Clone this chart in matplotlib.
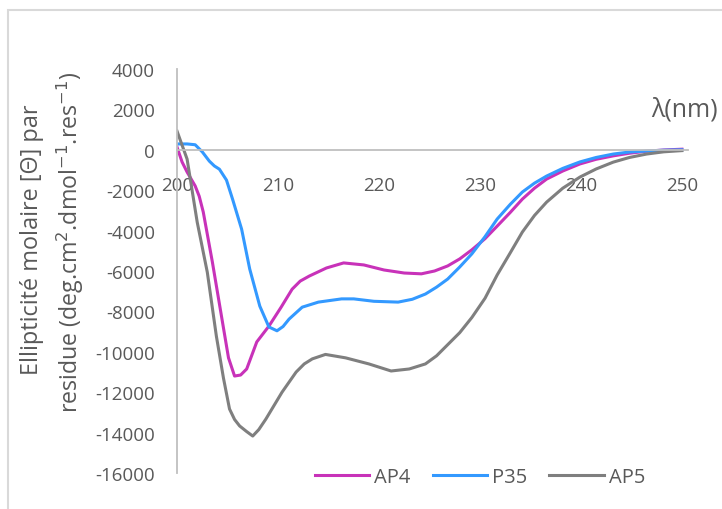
import numpy as np
import matplotlib.pyplot as plt
from matplotlib.patches import Rectangle

# CD spectra
wl_ap4 = [200, 200.5, 201, 201.8, 202.2, 202.6, 203.5, 204.5, 205.1, 205.7, 206.3, 206.9,
          207.9, 209.1, 210.3, 211.4, 212.2, 213.1, 214.8, 216.5, 218.5, 220.5, 222.5,
          224.2, 225.5, 226.8, 228, 229.2, 230.5, 231.7, 233, 234.2, 235.4, 236.6, 238.2,
          239.9, 241.5, 243.2, 244.8, 246.5, 248.2, 250]
ap4 = [140, -600, -1100, -1790, -2300, -3080, -5550, -8520, -10300, -11200, -11150, -10850,
       -9510, -8730, -7800, -6900, -6500, -6250, -5850, -5600, -5700, -5950, -6100,
       -6140, -6000, -5750, -5400, -4950, -4400, -3780, -3100, -2440, -1900, -1450, -1050,
       -700, -470, -300, -170, -70, -10, 30]

wl_p35 = [200, 201, 201.8, 202.5, 203.2, 203.7, 204.2, 204.9, 205.5, 206.4, 207.2, 208.2,
          209.1, 209.9, 210.5, 211.1, 212.4, 214.0, 216.3, 217.5, 219.5, 221.9, 223.3,
          224.6, 225.7, 226.8, 228, 229.2, 230.5, 231.7, 233, 234.2, 235.4, 236.6, 238.2,
          239.9, 241.5, 243.2, 244.8, 246.5, 248.2, 250]
p35 = [290, 290, 250, -100, -560, -800, -960, -1500, -2440, -3930, -5900, -7740,
       -8770, -8960, -8750, -8380, -7790, -7540, -7380, -7380, -7500, -7540, -7400,
       -7140, -6800, -6400, -5800, -5150, -4300, -3430, -2700, -2090, -1650, -1300, -920,
       -600, -380, -210, -110, -60, -20, 0]

wl_ap5 = [200, 201, 202, 203, 203.9, 204.6, 205.2, 205.7, 206.2, 206.9, 207.5, 208.1,
          208.8, 210.4, 211.8, 212.6, 213.4, 214.7, 216.7, 219, 221.2, 223, 224.6, 225.7,
          226.8, 228, 229.2, 230.5, 231.7, 233, 234.2, 235.4, 236.6, 238.2, 239.9, 241.5,
          243.2, 244.8, 246.5, 248.2, 250]
ap5 = [930, -460, -3580, -6060, -9230, -11300, -12830, -13350, -13670, -13950, -14170, -13850,
       -13330, -12000, -11000, -10600, -10350, -10130, -10300, -10600, -10950, -10850, -10600, -10200,
       -9650, -9050, -8300, -7350, -6200, -5100, -4070, -3250, -2590, -1900, -1350, -950,
       -610, -380, -210, -100, -40]

series = [("AP4", wl_ap4, ap4, "#C832B9"),
          ("P35", wl_p35, p35, "#3399FF"),
          ("AP5", wl_ap5, ap5, "#7F7F7F")]

plt.rcParams['axes.unicode_minus'] = False
font = ['Open Sans', 'DejaVu Sans']
txt = "#595959"
axc = "#BFBFBF"

fig = plt.figure(figsize=(7.22, 5.1), dpi=100)
fig.patches.append(Rectangle((8 / 722, -0.1), 1.2, 1.1 - 11 / 510, transform=fig.transFigure,
                             fill=False, edgecolor="#D9D9D9", linewidth=1.5))
ax = fig.add_axes([177 / 722, 1 - 474 / 510, (688 - 177) / 722, (474 - 70) / 510])

for name, x, y, c in series:
    ax.plot(x, y, color=c, lw=2.2, label=name, solid_joinstyle='round')

ax.set_xlim(200, 250.6)
ax.set_ylim(-16000, 4000)
ax.set_yticks(np.arange(-16000, 4001, 2000))
ax.set_xticks(np.arange(200, 251, 10))

for s in ['top', 'right']:
    ax.spines[s].set_visible(False)
ax.spines['bottom'].set_position(('data', 0))
for s in ['bottom', 'left']:
    ax.spines[s].set_color(axc)
    ax.spines[s].set_linewidth(1.3)
ax.tick_params(length=0, labelcolor=txt, labelsize=13.5)
ax.tick_params(axis='x', pad=19)
ax.tick_params(axis='y', pad=16)
for lab in ax.get_xticklabels() + ax.get_yticklabels():
    lab.set_family(font)

fig.text(32 / 722, 1 - 240 / 510, "Ellipticité molaire [Θ] par", rotation=90,
         ha='center', va='center', fontsize=16.9, color=txt, family=font)
fig.text(70 / 722, 1 - 242 / 510, "residue (deg.cm$^{2}$.dmol$^{-1}$.res$^{-1}$)", rotation=90,
         ha='center', va='center', fontsize=16.7, color=txt, family=font)
fig.text(718 / 722, 1 - 110 / 510, "λ(nm)", ha='right', va='center', fontsize=18,
         color=txt, family=font)

leg = ax.legend(loc='center', bbox_to_anchor=(480 / 722, 1 - 478 / 510),
                bbox_transform=fig.transFigure, ncol=3, frameon=False,
                handlelength=2.7, columnspacing=1.1, handletextpad=0.25,
                prop={'family': font, 'size': 14.5})
for t in leg.get_texts():
    t.set_color(txt)

fig.savefig("out.png", dpi=100)
